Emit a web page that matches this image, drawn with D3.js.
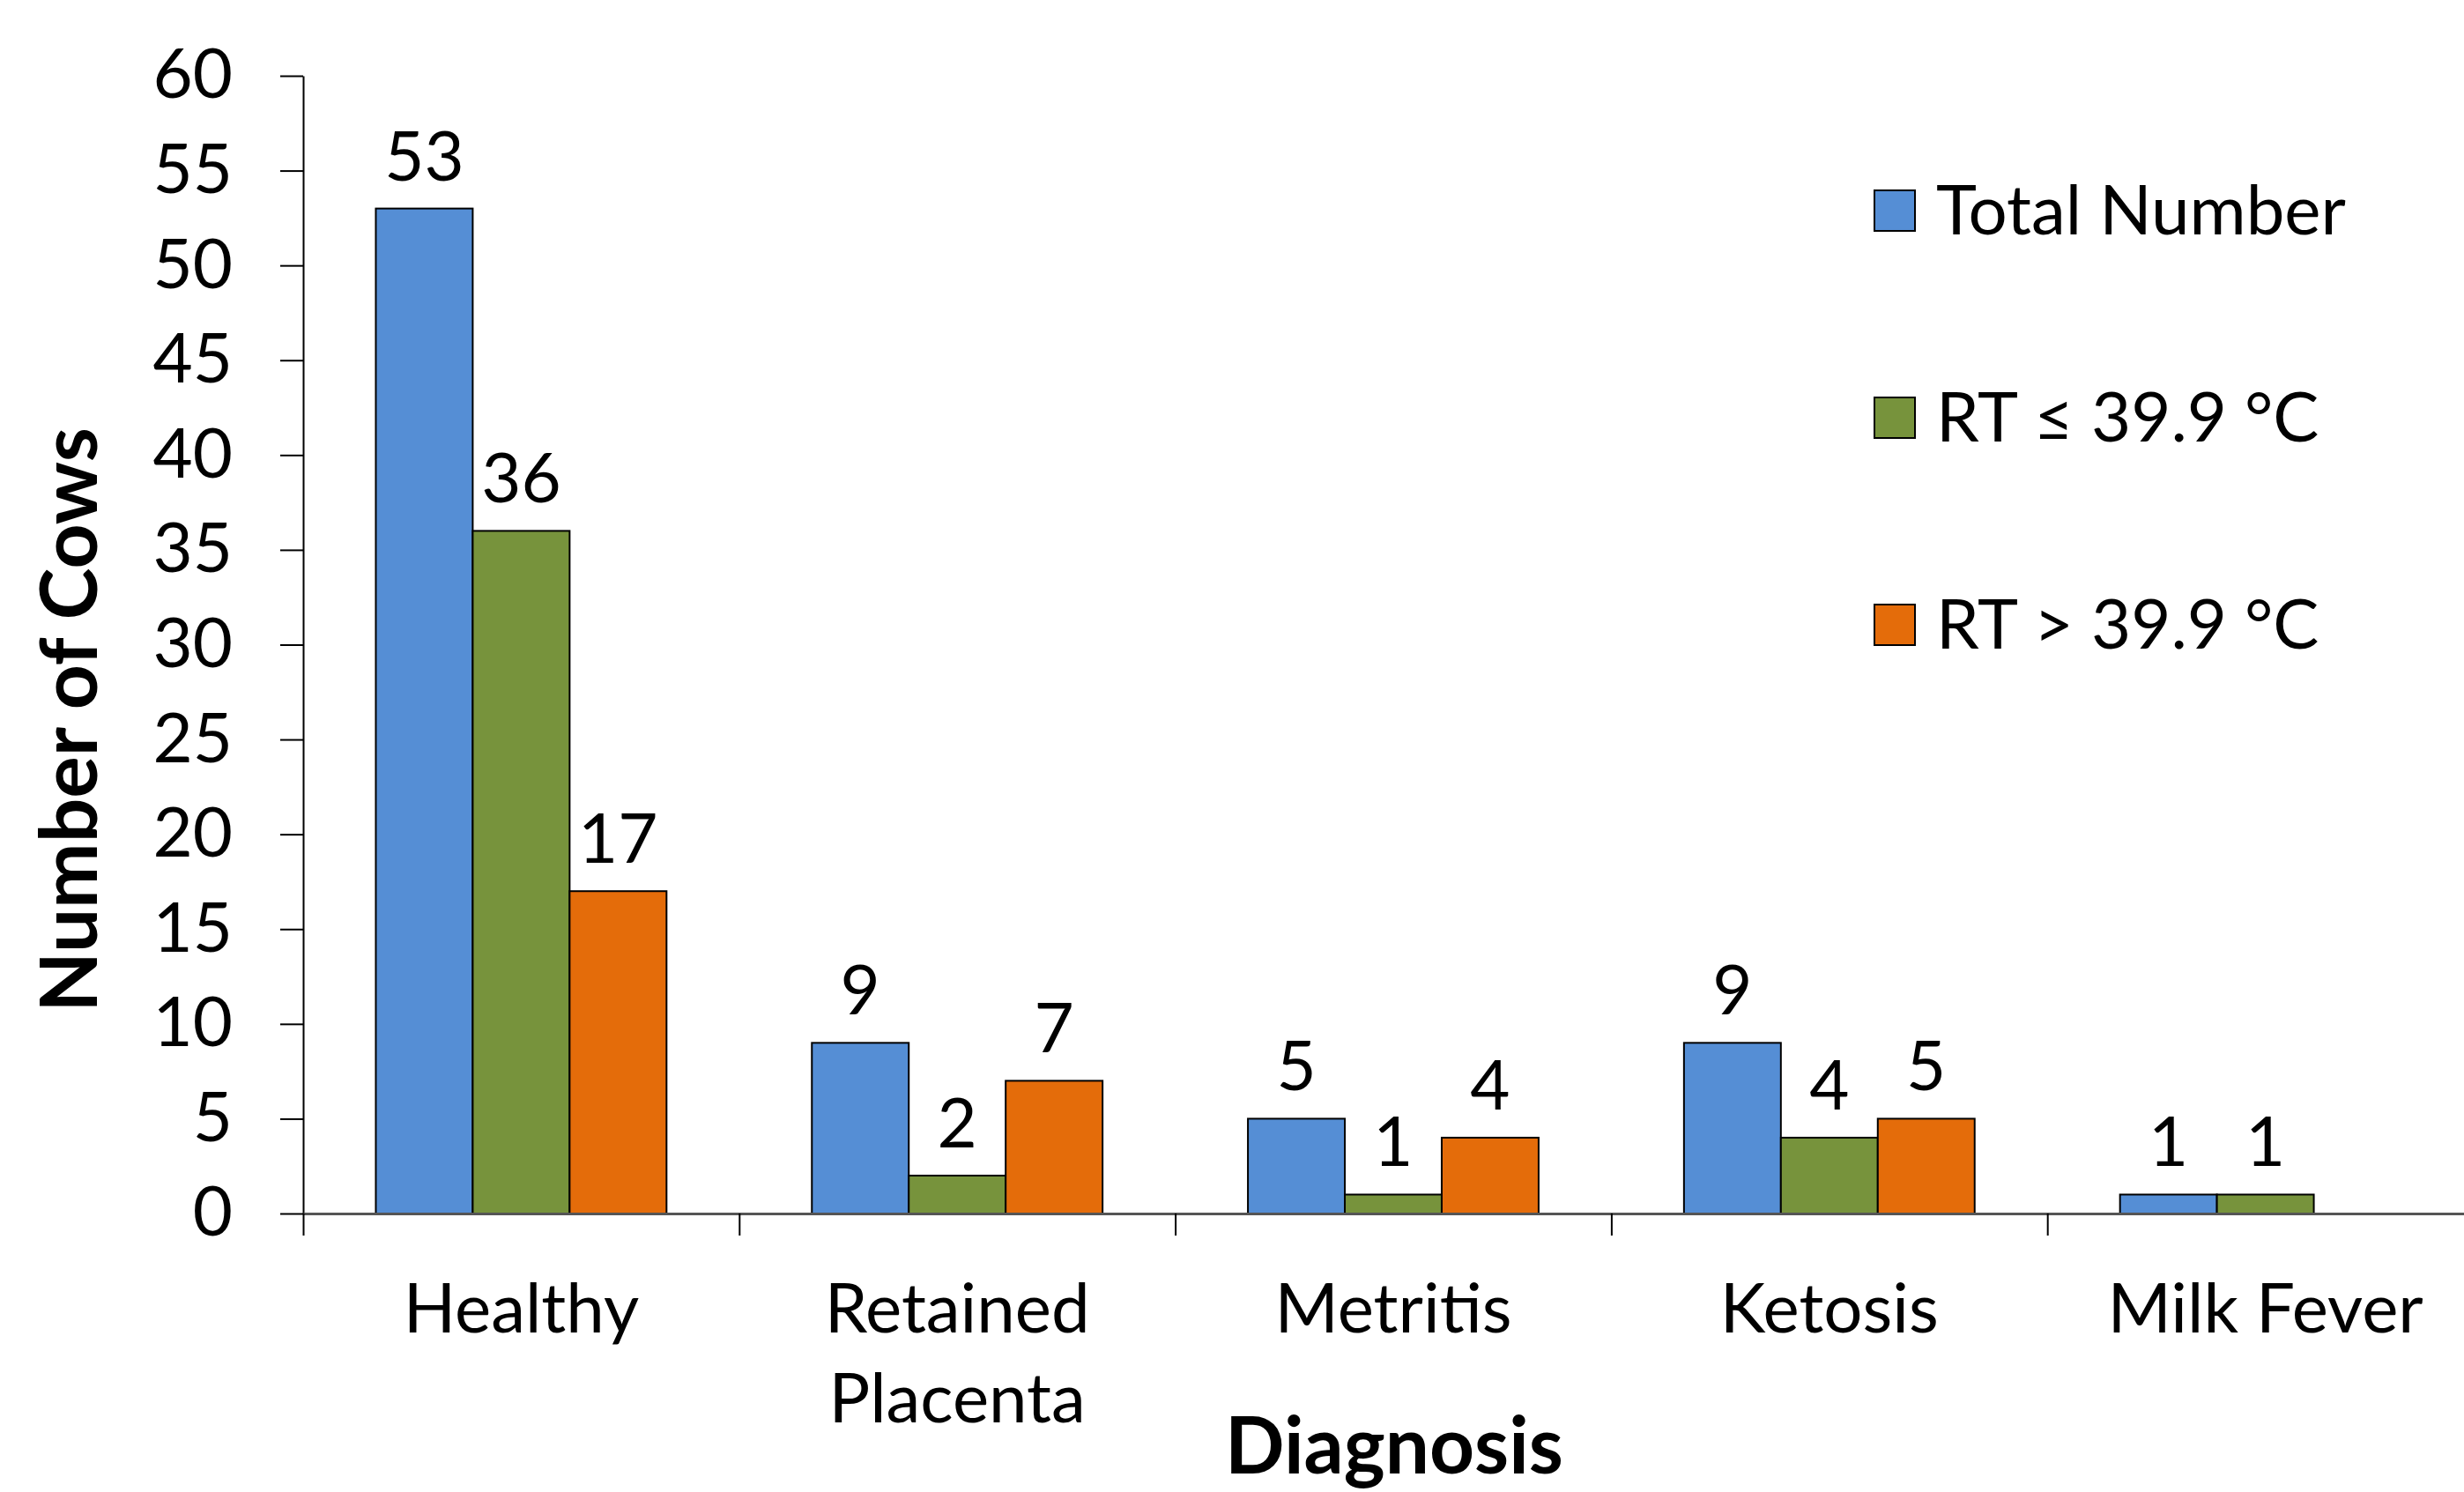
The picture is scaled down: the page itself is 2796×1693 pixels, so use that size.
<!DOCTYPE html>
<html>
<head>
<meta charset="utf-8">
<script src="https://cdn.jsdelivr.net/npm/d3@7"></script>
<style>
  html, body { margin: 0; padding: 0; background: #fff; }
  svg { display: block; font-family: Lato, 'Open Sans', sans-serif; }
</style>
</head>
<body>
<div id="chart"></div>
<script>
// Categories and values
const categories = ['Healthy', 'Retained Placenta', 'Metritis', 'Ketosis', 'Milk Fever'];
const categoryLines = [['Healthy'], ['Retained', 'Placenta'], ['Metritis'], ['Ketosis'], ['Milk Fever']];
const seriesNames = ['Total Number', 'RT ≤ 39.9 °C', 'RT > 39.9 °C'];
const totalNumber = [53, 9, 5, 9, 1];
const rtLow = [36, 2, 1, 4, 1];
const rtHigh = [17, 7, 4, 5, 0];
const yTicks = [0, 5, 10, 15, 20, 25, 30, 35, 40, 45, 50, 55, 60];
const colors = ['#558ed5', '#77933c', '#e46c0a'];

const width = 2796;
const height = 1693;
const plot = { left: 344, bottom: 1377, top: 86 };
const band = 494.8;
const fontSize = 78;
const titleSize = 89;

const svg = d3.select('#chart')
  .append('svg')
  .attr('width', width)
  .attr('height', height);

// Scales
const x = d3.scaleBand()
  .domain(categories)
  .range([plot.left, plot.left + band * categories.length])
  .padding(0);

const bw = x.bandwidth();
const x1 = d3.scaleBand()
  .domain(seriesNames)
  .range([bw * 0.75 / 4.5, bw - bw * 0.75 / 4.5])
  .padding(0);

const y = d3.scaleLinear()
  .domain([0, 60])
  .range([plot.bottom, plot.top]);

const color = d3.scaleOrdinal().domain(seriesNames).range(colors);

// Y axis
const yAxis = svg.append('g')
  .attr('transform', `translate(${plot.left},0)`)
  .call(d3.axisLeft(y).tickValues(yTicks).tickSize(26).tickPadding(54).tickSizeOuter(0));
yAxis.select('.domain').attr('stroke', '#000').attr('stroke-width', 2);
yAxis.selectAll('.tick line').attr('stroke', '#000').attr('stroke-width', 2);
yAxis.selectAll('.tick text')
  .attr('font-size', fontSize)
  .attr('fill', '#000')
  .style('font-family', 'Lato, sans-serif');

// Bars, grouped by category
const rows = categories.map((c, i) => ({
  cat: c,
  values: [totalNumber[i], rtLow[i], rtHigh[i]].map((v, k) => ({ key: seriesNames[k], value: v }))
}));

const groups = svg.selectAll('.group')
  .data(rows)
  .join('g')
  .attr('class', 'group')
  .attr('transform', d => `translate(${x(d.cat)},0)`);

groups.selectAll('rect')
  .data(d => d.values.filter(v => v.value > 0))
  .join('rect')
  .attr('x', d => x1(d.key))
  .attr('y', d => y(d.value))
  .attr('width', x1.bandwidth())
  .attr('height', d => y(0) - y(d.value))
  .attr('fill', d => color(d.key))
  .attr('stroke', '#000')
  .attr('stroke-width', 2);

groups.selectAll('.val')
  .data(d => d.values.filter(v => v.value > 0))
  .join('text')
  .attr('class', 'val')
  .attr('x', d => x1(d.key) + x1.bandwidth() / 2)
  .attr('y', d => y(d.value) - 32)
  .attr('text-anchor', 'middle')
  .attr('font-size', fontSize)
  .text(d => d.value);

// X axis: ticks at category boundaries
const xEdge = d3.scaleLinear().domain([0, categories.length]).range(x.range());
const xAxis = svg.append('g')
  .attr('transform', `translate(0,${plot.bottom})`)
  .call(d3.axisBottom(xEdge).tickValues(d3.range(0, categories.length + 1)).tickSize(25).tickSizeOuter(0).tickFormat(''));
xAxis.select('.domain').attr('stroke', '#555').attr('stroke-width', 3);
xAxis.selectAll('.tick line').attr('stroke', '#000').attr('stroke-width', 2);

// Category labels
const catLabels = svg.selectAll('.cat')
  .data(categories)
  .join('text')
  .attr('class', 'cat')
  .attr('x', d => x(d) + bw / 2)
  .attr('y', 1512)
  .attr('text-anchor', 'middle')
  .attr('font-size', fontSize);

catLabels.selectAll('tspan')
  .data((d, i) => categoryLines[i])
  .join('tspan')
  .attr('x', function () { return d3.select(this.parentNode).attr('x'); })
  .attr('dy', (d, i) => i === 0 ? 0 : 102)
  .text(d => d);

// Axis titles
svg.append('text')
  .attr('transform', `translate(110,817) rotate(-90)`)
  .attr('text-anchor', 'middle')
  .attr('font-size', titleSize)
  .attr('font-weight', 'bold')
  .text('Number of Cows');

svg.append('text')
  .attr('x', 1582)
  .attr('y', 1672)
  .attr('text-anchor', 'middle')
  .attr('font-size', titleSize)
  .attr('font-weight', 'bold')
  .text('Diagnosis');

// Legend
const legend = svg.selectAll('.legend')
  .data(seriesNames)
  .join('g')
  .attr('class', 'legend')
  .attr('transform', (d, i) => `translate(2127,${239 + i * 235})`);

legend.append('rect')
  .attr('x', 0)
  .attr('y', -23)
  .attr('width', 46)
  .attr('height', 46)
  .attr('fill', d => color(d))
  .attr('stroke', '#000')
  .attr('stroke-width', 2);

legend.append('text')
  .attr('x', 70)
  .attr('y', 0)
  .attr('dy', '0.35em')
  .attr('font-size', fontSize)
  .text(d => d);
</script>
</body>
</html>
